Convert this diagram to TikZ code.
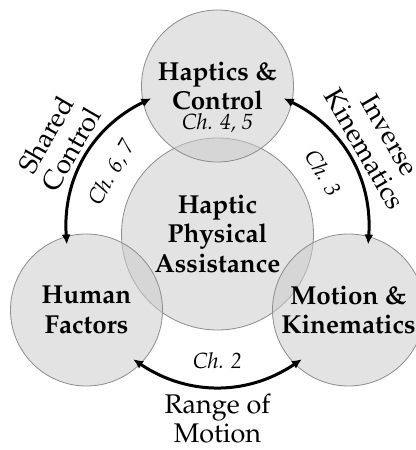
\documentclass[tikz,border=0pt]{standalone}
\usepackage[T1]{fontenc}
\usepackage{mathpazo}
\usetikzlibrary{calc,arrows.meta}

\tikzset{
	area/.style={circle, draw=black!45, line width=0.4pt, fill=black!20, fill opacity=0.55, text opacity=1, inner sep=0pt, align=center, font=\fontsize{13}{14.8}\selectfont\bfseries},
	link/.style={{Latex[length=5pt,width=4.5pt]}-{Latex[length=5pt,width=4.5pt]}, line width=1.5pt},
	topic/.style={align=center, font=\fontsize{13.5}{14.5}\selectfont},
	chap/.style={font=\fontsize{11}{13}\selectfont\itshape},
}

\begin{document}
\begin{tikzpicture}[x=0.5pt, y=0.5pt]
			%%%%% START %%%%%
			\useasboundingbox (-217.5, 234) rectangle (198.5, -216);
			
			\node[area, minimum size=96pt] (hpa) at (0, 0) {Haptic\\Physical\\Assistance};
			\node[area, minimum size=76pt] (hc) at (0, 148) {Haptics \&\\Control};
			\node[area, minimum size=76pt] (hf) at (-131, -76) {Human\\Factors};
			\node[area, minimum size=76pt] (mk) at (131, -76) {Motion \&\\Kinematics};
			\node[chap, anchor=base] (ch45) at (0, 104.5) {Ch. 4, 5};
			
			\coordinate (sc-a) at (116:151);
			\coordinate (sc-b) at (184:151);
			\coordinate (ik-a) at (-4:151);
			\coordinate (ik-b) at (64:151);
			\coordinate (rm-a) at (236:151);
			\coordinate (rm-b) at (304:151);
			
			\draw[link] (sc-a) to[bend right=34] (sc-b);
			\draw[link] (ik-a) to[bend right=34] (ik-b);
			\draw[link] (rm-a) to[bend right=34] (rm-b);
			
			\node[topic, rotate=60] (sc) at (150:184) {Shared\\Control};
			\node[chap, rotate=60] (ch67) at (150:122) {Ch. 6, 7};
			\node[topic, rotate=-60] (ik) at (30:184) {Inverse\\Kinematics};
			\node[chap, rotate=-60] (ch3) at (30:122) {Ch. 3};
			\node[chap] (ch2) at (270:127) {Ch. 2};
			\node[topic] (rm) at (270:185) {Range of\\Motion};
			
			%%%%% END %%%%%
		\end{tikzpicture}
\end{document}
